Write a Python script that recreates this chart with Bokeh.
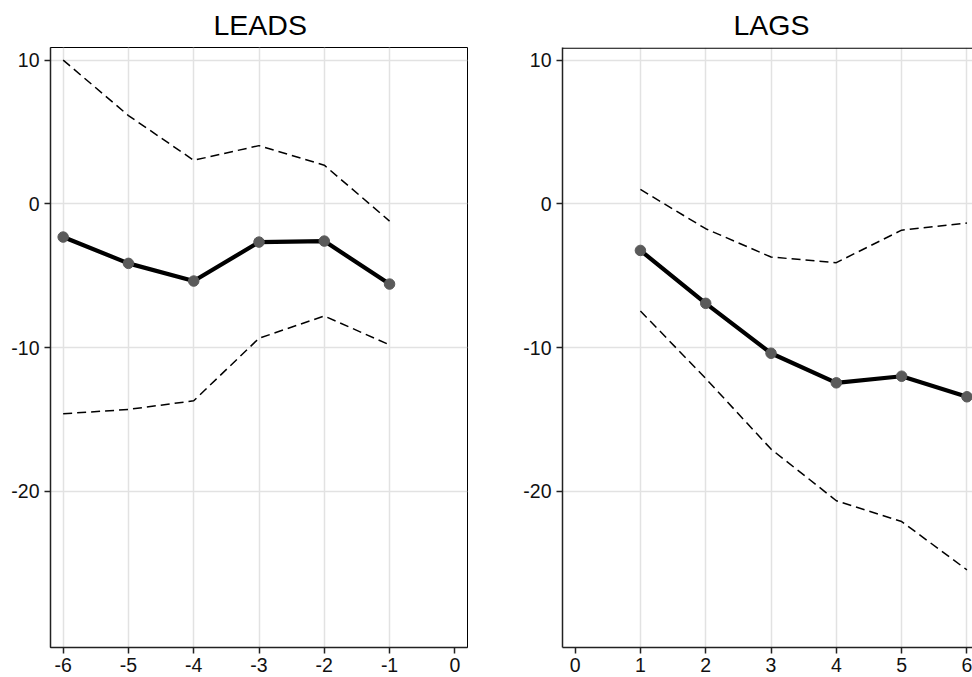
from bokeh.plotting import figure
from bokeh.layouts import row
from bokeh.models import Range1d, FixedTicker, Span
from bokeh.embed import file_html
from bokeh.resources import INLINE

# ---- data ----
lead_x = [-6, -5, -4, -3, -2, -1]
lead_est = [-2.31, -4.14, -5.37, -2.66, -2.59, -5.58]
lead_hi = [10.0, 6.14, 3.03, 4.05, 2.69, -1.20]
lead_lo = [-14.6, -14.3, -13.7, -9.35, -7.80, -9.81]

lag_x = [1, 2, 3, 4, 5, 6]
lag_est = [-3.24, -6.92, -10.39, -12.45, -11.99, -13.42]
lag_hi = [1.0, -1.73, -3.70, -4.09, -1.83, -1.34]
lag_lo = [-7.45, -12.15, -17.06, -20.65, -22.1, -25.46]

lead_ticks = [-6, -5, -4, -3, -2, -1, 0]
lag_ticks = [0, 1, 2, 3, 4, 5, 6]
y_ticks = [-20, -10, 0, 10]

Y_MIN, Y_MAX = -30.86, 10.875
FONT = "Liberation Sans"
H = 677
TOP = 47
BOTTOM = 30


def make(title, x, est, hi, lo, xr, xticks, width, bl, br, toff, outline=True):
    p = figure(width=width, height=H, x_range=Range1d(*xr), y_range=Range1d(Y_MIN, Y_MAX),
               output_backend="svg", toolbar_location=None,
               min_border_left=bl, min_border_right=br, min_border_top=TOP,
               min_border_bottom=BOTTOM)
    p.title.text = title
    p.title.text_font = FONT
    p.title.text_font_size = "28.5px"
    p.title.text_font_style = "normal"
    p.title.text_color = "black"
    p.title.align = "left"
    p.title.offset = toff
    p.title.standoff = 13

    p.xaxis.ticker = FixedTicker(ticks=xticks)
    p.yaxis.ticker = FixedTicker(ticks=y_ticks)
    p.xaxis.major_label_overrides = {t: str(t) for t in xticks}
    p.yaxis.major_label_overrides = {t: str(t) for t in y_ticks}
    p.axis.axis_label = None
    p.axis.axis_label_standoff = 0
    p.axis.major_label_text_font = FONT
    p.axis.major_label_text_font_size = "19.5px"
    p.axis.major_label_text_color = "#111111"
    p.axis.axis_line_color = "#222222"
    p.axis.axis_line_width = 1.5
    p.axis.major_tick_line_color = "#222222"
    p.axis.major_tick_line_width = 1.5
    p.axis.major_tick_out = 6
    p.axis.major_tick_in = 0
    p.axis.minor_tick_line_color = None
    p.xaxis.major_label_standoff = 4
    p.yaxis.major_label_standoff = 5

    p.xgrid.ticker = FixedTicker(ticks=x)
    p.ygrid.ticker = FixedTicker(ticks=y_ticks)
    p.grid.grid_line_color = "#e2e2e2"
    p.grid.grid_line_width = 1.5

    if outline:
        p.outline_line_color = "black"
        p.outline_line_width = 1
    else:
        p.outline_line_color = None
        px_per_unit = (H - TOP - BOTTOM) / (Y_MAX - Y_MIN)
        p.add_layout(Span(location=Y_MAX - 0.6 / px_per_unit, dimension="width",
                          line_color="black", line_width=1.2))

    p.line(x, hi, line_color="black", line_width=1.5, line_dash="9 5")
    p.line(x, lo, line_color="black", line_width=1.5, line_dash="9 5")
    p.line(x, est, line_color="black", line_width=4.2)
    p.scatter(x, est, size=10.5, fill_color="#5a5a5a", line_color="#5a5a5a")
    p.background_fill_color = "white"
    p.border_fill_color = "white"
    return p


p1 = make("LEADS", lead_x, lead_est, lead_hi, lead_lo, (-6.194, 0.194), lead_ticks,
          480, 50, 13, 163)
p2 = make("LAGS", lag_x, lag_est, lag_hi, lag_lo, (-0.193, 6.085), lag_ticks,
          492, 82, 0, 171, outline=False)

layout = row(p1, p2)
open("out.html", "w").write(file_html(layout, INLINE))
